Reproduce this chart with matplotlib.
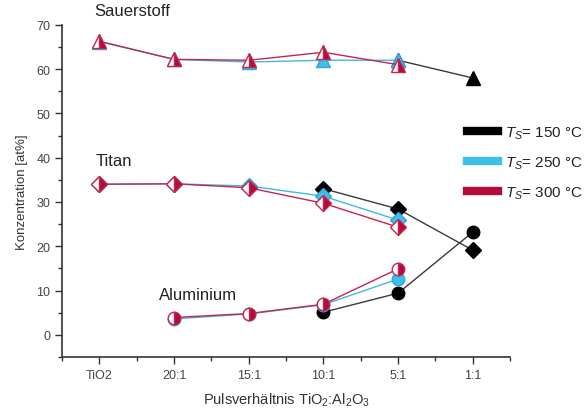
import numpy as np
import matplotlib
matplotlib.use("Agg")
import matplotlib.pyplot as plt
from matplotlib.lines import Line2D

plt.rcParams["font.family"] = ["Liberation Sans", "DejaVu Sans"]
plt.rcParams["mathtext.fontset"] = "custom"
plt.rcParams["mathtext.it"] = "Liberation Sans:italic"
plt.rcParams["mathtext.rm"] = "Liberation Sans"

nan = np.nan
ratios = ["TiO2", "20:1", "15:1", "10:1", "5:1", "1:1"]

## Sauerstoff (triangles)
o_150 = [nan, nan, nan, nan, 62.0, 58.0]
o_250 = [66.2, 62.2, 61.6, 62.0, 62.0, nan]
o_300 = [66.3, 62.2, 62.0, 63.8, 61.0, nan]

## Titan (diamonds)
ti_150 = [nan, nan, nan, 33.0, 28.4, 19.1]
ti_250 = [34.0, 34.1, 33.6, 31.3, 25.9, nan]
ti_300 = [34.0, 34.1, 33.2, 29.7, 24.3, nan]

## Aluminium (circles)
al_150 = [nan, nan, nan, 5.1, 9.4, 23.2]
al_250 = [nan, 3.6, 4.7, 6.8, 12.6, nan]
al_300 = [nan, 3.9, 4.8, 6.9, 14.9, nan]

labels = ["150", "250", "300"]
line_colors = {"150": "#3a3a3a", "250": "#3fb8e8", "300": "#c4254f"}
face_colors = {"150": "black", "250": "#3dbfe9", "300": "#b5093a"}
edge_colors = {"150": "black", "250": "#2fa8e0", "300": "#c4254f"}

series = {
    "^": {"150": o_150, "250": o_250, "300": o_300},
    "D": {"150": ti_150, "250": ti_250, "300": ti_300},
    "o": {"150": al_150, "250": al_250, "300": al_300},
}
msizes = {"^": 10, "D": 8, "o": 9}

fig = plt.figure(figsize=(5.85, 4.10), dpi=100)
ax = fig.add_axes([0.106, 0.127, 0.766, 0.81])

x = np.arange(len(ratios))
for marker, data in series.items():
    for z, T in enumerate(labels):
        y = np.array(data[T], dtype=float)
        m = ~np.isnan(y)
        kw = dict(color=line_colors[T], lw=1.0, marker=marker, markersize=msizes[marker],
                  markeredgecolor=edge_colors[T], markeredgewidth=1.0, zorder=3 + z)
        if T == "300":
            kw.update(markerfacecolor=face_colors[T], fillstyle="right", markerfacecoloralt="white")
        else:
            kw.update(markerfacecolor=face_colors[T])
        ax.plot(x[m], y[m], **kw)

ax.set_xlim(-0.5, 5.5)
ax.set_ylim(-5, 70)
ax.set_xticks(x)
ax.set_xticklabels(ratios)
ax.set_xticks(np.arange(-0.5, 5.6, 1.0), minor=True)
ax.set_yticks(np.arange(0, 71, 10))
ax.set_yticks(np.arange(-5, 71, 5), minor=True)
ax.spines["top"].set_visible(False)
ax.spines["right"].set_visible(False)
for s in ["left", "bottom"]:
    ax.spines[s].set_color("#333333")
    ax.spines[s].set_linewidth(1.2)
ax.tick_params(which="major", length=5, width=1.0, color="#333333", labelcolor="#444444", labelsize=9)
ax.tick_params(which="minor", length=3, width=1.0, color="#333333")

ax.set_ylabel("Konzentration [at%]", fontsize=9.5, color="#333333", labelpad=6)
ax.set_xlabel("Pulsverhältnis TiO$_2$:Al$_2$O$_3$", fontsize=10.5, color="#333333", labelpad=7)

ax.text(-0.07, 72.2, "Sauerstoff", fontsize=12, color="#222222", clip_on=False)
ax.text(-0.05, 38.3, "Titan", fontsize=12, color="#222222")
ax.text(0.8, 8.0, "Aluminium", fontsize=12, color="#222222")

handles = [Line2D([0], [0], color=face_colors[T], lw=6) for T in labels]
names = ["$T_S$= %s °C" % T for T in labels]
fig.legend(handles, names, loc="upper left", bbox_to_anchor=(0.775, 0.728),
           frameon=False, fontsize=11, handlelength=2.0, handletextpad=0.5,
           labelspacing=0.9, labelcolor="#222222")

fig.savefig("out.png", dpi=100)
